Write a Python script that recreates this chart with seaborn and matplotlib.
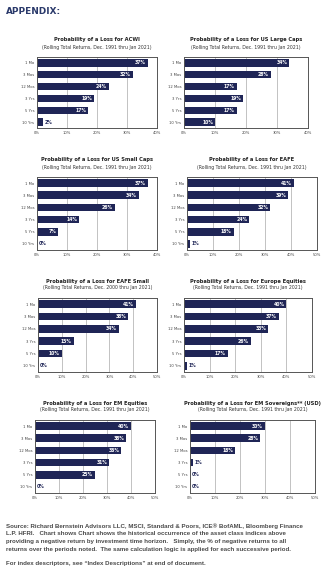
import matplotlib
matplotlib.use("Agg")
import matplotlib.pyplot as plt
import seaborn as sns
import pandas as pd

sns.set_theme(style="white")
plt.rcParams['font.family'] = ['DejaVu Sans']

horizons = ["1 Mo", "3 Mos", "12 Mos", "3 Yrs", "5 Yrs", "10 Yrs"]

acwi = [37, 32, 24, 19, 17, 2]
us_large = [34, 28, 17, 19, 17, 10]
us_small = [37, 34, 26, 14, 7, 0]
eafe = [41, 39, 32, 24, 18, 1]
eafe_small = [41, 38, 34, 15, 10, 0]
europe = [40, 37, 33, 26, 17, 1]
em_eq = [40, 38, 36, 31, 25, 0]
em_sov = [30, 28, 18, 1, 0, 0]

titles = [
    "Probability of a Loss for ACWI",
    "Probability of a Loss for US Large Caps",
    "Probability of a Loss for US Small Caps",
    "Probability of a Loss for EAFE",
    "Probability of a Loss for EAFE Small",
    "Probability of a Loss for Europe Equities",
    "Probability of a Loss for EM Equities",
    "Probability of a Loss for EM Sovereigns** (USD)",
]
subtitles = [
    "(Rolling Total Returns, Dec. 1991 thru Jan 2021)",
    "(Rolling Total Returns, Dec. 1991 thru Jan 2021)",
    "(Rolling Total Returns, Dec. 1991 thru Jan 2021)",
    "(Rolling Total Returns, Dec. 1991 thru Jan 2021)",
    "(Rolling Total Returns, Dec. 2000 thru Jan 2021)",
    "(Rolling Total Returns, Dec. 1991 thru Jan 2021)",
    "(Rolling Total Returns, Dec. 1991 thru Jan 2021)",
    "(Rolling Total Returns, Dec. 1991 thru Jan 2021)",
]
series = [acwi, us_large, us_small, eafe, eafe_small, europe, em_eq, em_sov]
xmaxes = [40, 40, 40, 50, 50, 50, 50, 50]

# axes boxes in pixels: left, top, right, bottom
boxes = [
    (37, 57, 157, 128), (184, 57, 308, 128),
    (37, 177, 157, 250), (187, 177, 317, 250),
    (38, 298, 157, 372), (184, 298, 312, 372),
    (35, 420, 155, 493), (190, 420, 315, 493),
]

W, H = 332, 580
fig = plt.figure(figsize=(W / 100, H / 100), dpi=100)
fig.patch.set_facecolor("white")

navy = "#1f2556"
frame = "#555555"

fig.text(6 / W, 1 - 11 / H, "APPENDIX:", color="#2b3a6b", fontsize=6.4,
         fontweight="bold", va="center", ha="left")

for vals, title, sub, xmax, (l, t, r, b) in zip(series, titles, subtitles, xmaxes, boxes):
    ax = fig.add_axes([l / W, 1 - b / H, (r - l) / W, (b - t) / H])
    df = pd.DataFrame({"horizon": horizons, "value": vals})
    sns.barplot(data=df, x="value", y="horizon", orient="h", color=navy,
                width=0.62, saturation=1, linewidth=0, ax=ax)
    ax.set_xlim(0, xmax)
    ax.set_xticks(range(0, xmax + 1, 10))
    ax.set_xticklabels([f"{v}%" for v in range(0, xmax + 1, 10)])
    ax.set_xlabel("")
    ax.set_ylabel("")
    ax.tick_params(axis="both", length=0, labelsize=2.7, colors="#444444", pad=2)
    ax.grid(axis="x", color="#aaaaaa", linewidth=0.5)
    ax.set_axisbelow(True)
    for s in ax.spines.values():
        s.set_visible(True)
        s.set_color(frame)
        s.set_linewidth(0.7)
    for i, v in enumerate(vals):
        if v >= 5:
            ax.text(v - xmax * 0.015, i, f"{v}%", color="white", fontsize=3.3,
                    fontweight="bold", ha="right", va="center")
        else:
            ax.text(v + xmax * 0.015, i, f"{v}%", color=navy, fontsize=3.3,
                    fontweight="bold", ha="left", va="center")
    cx = (l + r) / 2 / W
    fig.text(cx, 1 - (t - 17) / H, title, fontsize=3.7, fontweight="bold",
             color="#222222", ha="center", va="center")
    fig.text(cx, 1 - (t - 10) / H, sub, fontsize=3.3, color="#333333",
             ha="center", va="center")

footer = [
    "Source: Richard Bernstein Advisors LLC, MSCI, Standard & Poors, ICE\u00ae BofAML, Bloomberg Finance",
    "L.P. HFRI.   Chart shows Chart shows the historical occurrence of the asset class indices above",
    "providing a negative return by investment time horizon.   Simply, the % of negative returns to all",
    "returns over the periods noted.  The same calculation logic is applied for each successive period.",
]
fkw = dict(fontsize=4.4, color="#4a4a4a", fontweight="bold", ha="left", va="center",
           family=["Liberation Sans", "DejaVu Sans"])
for k, line in enumerate(footer):
    fig.text(6 / W, 1 - (526 + k * 7.8) / H, line, **fkw)
fig.text(6 / W, 1 - 563 / H,
         "For index descriptors, see \u201cIndex Descriptions\u201d at end of document.", **fkw)

fig.savefig("out.png", dpi=100, facecolor="white")
